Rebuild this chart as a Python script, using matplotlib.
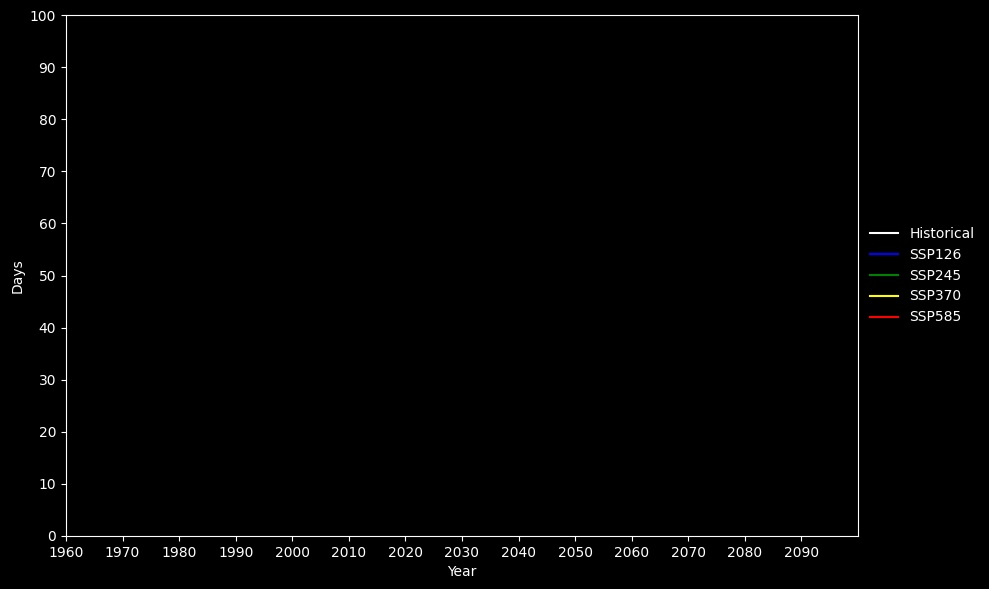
import numpy as np
import matplotlib
matplotlib.use("Agg")
import matplotlib.pyplot as plt

plt.style.use("dark_background")

# scenario series (no values visible in the picture)
scenarios = ["Historical", "SSP126", "SSP245", "SSP370", "SSP585"]
colors = ["white", "blue", "green", "yellow", "red"]
years = {s: [] for s in scenarios}
days = {s: [] for s in scenarios}

xticks = list(range(1960, 2100, 10))
yticks = list(range(0, 101, 10))

fig = plt.figure(figsize=(9.89, 5.89), dpi=100)
ax = fig.add_axes([0.0667, 0.09, 0.8008, 0.8845])

for s, c in zip(scenarios, colors):
    ax.plot(years[s], days[s], color=c, label=s)

ax.set_xlim(1960, 2100)
ax.set_ylim(0, 100)
ax.set_xticks(xticks)
ax.set_yticks(yticks)
ax.set_xlabel("Year")
ax.set_ylabel("Days")
ax.legend(loc="center left", bbox_to_anchor=(1.0, 0.5), frameon=False)

fig.savefig("out.png", dpi=100)
